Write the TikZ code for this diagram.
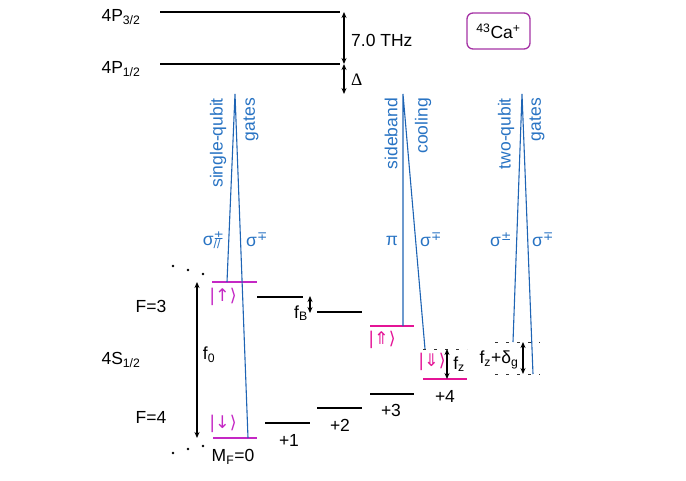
\documentclass[tikz,border=0pt]{standalone}
\usepackage{fontspec}
\setmainfont{Liberation Sans}
\newfontfamily\dejavu{DejaVu Sans}
\newfontfamily\tserif{Liberation Serif}
\usetikzlibrary{arrows.meta}
\definecolor{qmag}{RGB}{196,40,196}
\definecolor{smag}{RGB}{228,20,150}
\definecolor{lblue}{RGB}{30,100,180}
\definecolor{tblue}{RGB}{40,115,195}
\definecolor{boxpur}{RGB}{165,50,165}
\begin{document}
\begin{tikzpicture}[x=1pt,y=-1pt,
  font=\fontsize{17.5}{20}\selectfont,
  level/.style={line width=2.8pt},
  qlev/.style={level,draw=qmag},
  slev/.style={level,draw=smag},
  beam/.style={draw=lblue,line width=1.1pt},
  dashlev/.style={draw=black!80,line width=0.9pt,dash pattern=on 3pt off 8pt},
  darr/.style={{Stealth[length=6pt,width=5pt]}-{Stealth[length=6pt,width=5pt]},line width=1.1pt},
  lbl/.style={inner sep=0pt},
  rottxt/.style={rotate=90,anchor=east,inner sep=0pt,text=tblue},
  btxt/.style={inner sep=0pt,text=tblue},
  ket/.style={inner sep=0pt,font=\dejavu\fontsize{17.5}{20}\selectfont},
  dot/.style={circle,fill=black,inner sep=0pt,minimum size=2.6pt}]
\useasboundingbox (0,0) rectangle (686,480);

% P levels
\coordinate (p3a) at (160,12); \coordinate (p3b) at (340,12);
\coordinate (p1a) at (160,64); \coordinate (p1b) at (340,64);
\draw[level] (p3a) -- (p3b);
\draw[level] (p1a) -- (p1b);
\node[lbl] (lp3) at (121,17) {4P\textsubscript{3/2}};
\node[lbl] (lp1) at (121,69) {4P\textsubscript{1/2}};

\coordinate (thzt) at (344,12); \coordinate (thzb) at (344,64); \coordinate (dlb) at (344,94);
\draw[darr] (thzt) -- (thzb);
\draw[darr] (thzb) -- (dlb);
\node[lbl,anchor=west] (thz) at (351,40) {7.0 THz};
\node[lbl,anchor=west] (dl) at (351,80) {\tserif Δ};

% Ca box
\node[draw=boxpur,line width=1.3pt,rounded corners=6pt,minimum width=63pt,minimum height=36pt,inner sep=0pt] (ca) at (498.5,31) {\textsuperscript{43}Ca\textsuperscript{+}};

% S levels
\coordinate (upa) at (212,282); \coordinate (upb) at (257,282);
\coordinate (f31a) at (257,297); \coordinate (f31b) at (303,297);
\coordinate (f32a) at (317,312); \coordinate (f32b) at (362,312);
\coordinate (sua) at (370,326); \coordinate (sub) at (414,326);
\coordinate (dna) at (213,438); \coordinate (dnb) at (257,438);
\coordinate (m1a) at (265,423); \coordinate (m1b) at (310,423);
\coordinate (m2a) at (317,408); \coordinate (m2b) at (362,408);
\coordinate (m3a) at (370,394); \coordinate (m3b) at (414,394);
\coordinate (m4a) at (423,379); \coordinate (m4b) at (467,379);
\draw[qlev] (upa) -- (upb);
\draw[level] (f31a) -- (f31b);
\draw[level] (f32a) -- (f32b);
\draw[slev] (sua) -- (sub);
\draw[qlev] (dna) -- (dnb);
\draw[level] (m1a) -- (m1b);
\draw[level] (m2a) -- (m2b);
\draw[level] (m3a) -- (m3b);
\draw[slev] (m4a) -- (m4b);

% dashed virtual levels
\coordinate (vsa) at (423,349); \coordinate (vsb) at (467,349);
\coordinate (vta) at (495,342); \coordinate (vtb) at (540,342);
\coordinate (vba) at (495,374); \coordinate (vbb) at (540,374);
\draw[dashlev] (vsa) -- (vsb);
\draw[dashlev] (vta) -- (vtb);
\draw[dashlev] (vba) -- (vbb);

% beams
\coordinate (sqA) at (235,94); \coordinate (sqL) at (227,282); \coordinate (sqR) at (248,438);
\coordinate (sbA) at (403,94); \coordinate (sbL) at (403,326); \coordinate (sbR) at (425,349);
\coordinate (tqA) at (522,94); \coordinate (tqL) at (513,342); \coordinate (tqR) at (533,374);
\draw[beam] (sqL) -- (sqA) -- (sqR);
\draw[beam] (sbL) -- (sbA) -- (sbR);
\draw[beam] (tqL) -- (tqA) -- (tqR);

\node[rottxt] (t1) at (218,98) {single-qubit};
\node[rottxt] (t2) at (251,98) {gates};
\node[rottxt] (t3) at (391,98) {sideband};
\node[rottxt] (t4) at (423,98) {cooling};
\node[rottxt] (t5) at (506,98) {two-qubit};
\node[rottxt] (t6) at (537,98) {gates};

\node[btxt] (s1) at (212,240) {σ\rlap{\textsuperscript{\dejavu ±}}\textsubscript{//}};
\node[btxt] (s2) at (257,240) {σ\textsuperscript{\dejavu ∓}};
\node[btxt] (s3) at (392,241) {π};
\node[btxt] (s4) at (431,240) {σ\textsuperscript{\dejavu ∓}};
\node[btxt] (s5) at (501,240) {σ\textsuperscript{\dejavu ±}};
\node[btxt] (s6) at (543,240) {σ\textsuperscript{\dejavu ∓}};

% frequency arrows
\coordinate (f0t) at (197,282); \coordinate (f0b) at (197,438);
\draw[darr] (f0t) -- (f0b);
\node[lbl] (f0) at (209,355) {f\textsubscript{0}};
\coordinate (fbt) at (310,296); \coordinate (fbb) at (310,313);
\draw[darr] (fbt) -- (fbb);
\node[lbl] (fb) at (301,313) {f\textsubscript{B}};
\coordinate (fzt) at (447,349); \coordinate (fzb) at (447,379);
\draw[darr] (fzt) -- (fzb);
\node[lbl] (fz) at (459,364) {f\textsubscript{z}};
\coordinate (fgt) at (523,342); \coordinate (fgb) at (523,374);
\draw[darr] (fgt) -- (fgb);
\node[lbl] (fg) at (499,360) {f\textsubscript{z}+δ\textsubscript{g}};

% kets
\node[ket,text=qmag] (kup) at (223,297) {|↑⟩};
\node[ket,text=qmag] (kdn) at (223,424) {|↓⟩};
\node[ket,text=smag] (ksu) at (382,340) {|⇑⟩};
\node[ket,text=smag] (ksd) at (432,362) {|⇓⟩};

% labels
\node[lbl] (F3) at (151,306) {F=3};
\node[lbl] (S12) at (121,360) {4S\textsubscript{1/2}};
\node[lbl] (F4) at (151,417) {F=4};
\node[lbl] (mf) at (233,457) {M\textsubscript{F}=0};
\node[lbl] (l1) at (289,440) {+1};
\node[lbl] (l2) at (340,425) {+2};
\node[lbl] (l3) at (391,410) {+3};
\node[lbl] (l4) at (445,396) {+4};

% dots
\node[dot] (d1) at (173,266) {}; \node[dot] (d2) at (188,270) {}; \node[dot] (d3) at (203,274) {};
\node[dot] (d4) at (173,453) {}; \node[dot] (d5) at (188,449) {}; \node[dot] (d6) at (203,446) {};
\end{tikzpicture}
\end{document}
